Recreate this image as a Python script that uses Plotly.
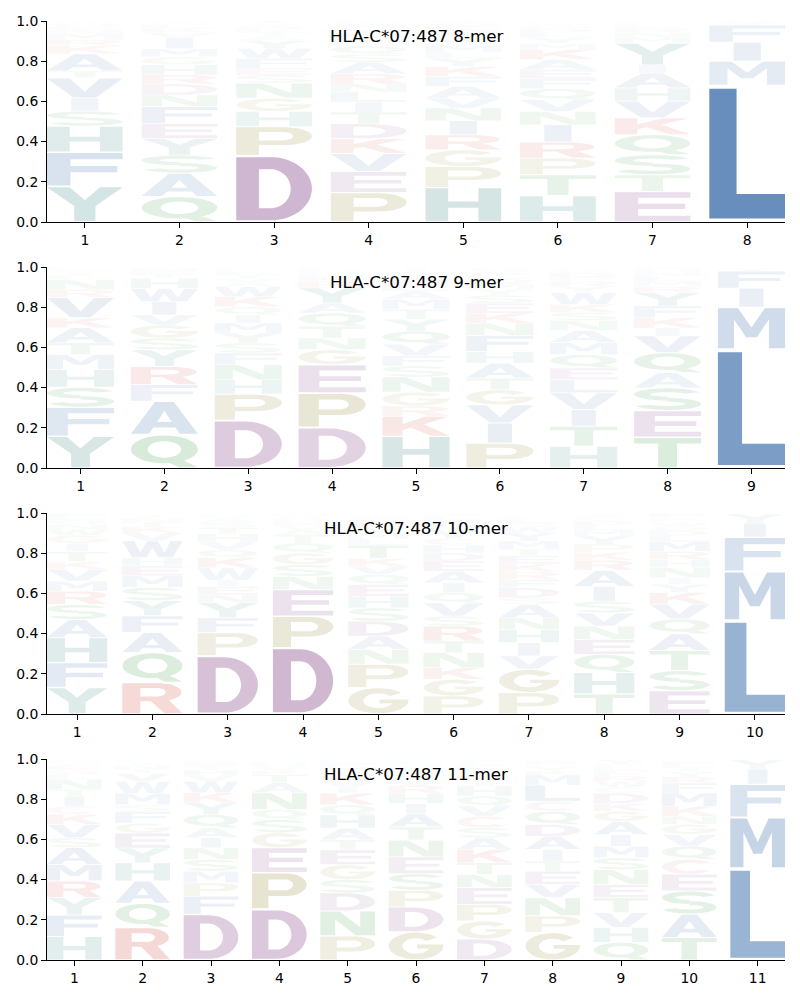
import numpy as np
import plotly.graph_objects as go

# ---------------- data ----------------
TITLES = ["HLA-C*07:487 8-mer", "HLA-C*07:487 9-mer", "HLA-C*07:487 10-mer", "HLA-C*07:487 11-mer"]

# letters per position, stacked bottom -> top, with their probabilities
letters_8mer = ["YFHSIVTAKRMNEQW", "QASYEFNDRHGMIVKLW", "DPHGNSEFWYATKRVI", "PEVKDTILNRASQMGHYFWC",
                "HPGRINVAFKYLMSTDEQW", "HTPRINVQFEAKMYLDGWC", "ETSQKVHAIYMNRLF", "LMIFYV"]
heights_8mer = [
    [.177, .17, .13, .075, .065, .10, .035, .085, .04, .03, .03, .02, .015, .015, .01],
    [.127, .116, .09, .083, .075, .083, .058, .055, .045, .05, .04, .04, .055, .025, .02, .02, .015],
    [.331, .144, .075, .066, .075, .04, .033, .05, .05, .04, .02, .02, .015, .015, .015, .01],
    [.147, .104, .09, .074, .074, .058, .05, .05, .04, .05, .058, .04, .04, .025, .02, .02, .02, .015, .015, .01],
    [.172, .104, .083, .075, .07, .063, .05, .057, .05, .05, .04, .03, .035, .03, .025, .02, .02, .015, .01],
    [.132, .103, .083, .08, .086, .066, .058, .055, .05, .045, .05, .05, .03, .03, .025, .02, .015, .01, .01],
    [.152, .083, .1, .1, .083, .083, .066, .074, .04, .108, .03, .025, .02, .015, .015],
    [.68, .12, .095, .085, .015, .005],
]

letters_9mer = ["YFSHMTAKVRNLIWE", "QAFRYSGVIWHTEN", "DPHNFSYMIQKWAVTEGL", "DPEGNTQAYRKHMF",
                "HKRGNSFVQYTMALDEWI", "PIVGTAHFNKESYMQLDWR", "HTIVLEQMANSKWYRFDGP", "TESAQVIKFYRMLNHW", "LMIFY"]
heights_9mer = [
    [.158, .144, .1, .088, .075, .058, .075, .05, .1, .04, .05, .02, .015, .015, .01],
    [.166, .166, .083, .09, .083, .058, .066, .05, .066, .066, .05, .02, .015, .015],
    [.237, .131, .071, .075, .058, .05, .05, .05, .04, .04, .05, .05, .02, .02, .02, .015, .01, .01],
    [.202, .171, .141, .075, .058, .058, .066, .05, .075, .033, .02, .015, .015, .015],
    [.158, .1, .05, .07, .075, .055, .05, .058, .066, .058, .05, .05, .04, .03, .03, .025, .015, .015],
    [.124, .1, .09, .075, .058, .075, .058, .08, .06, .05, .05, .04, .03, .025, .025, .02, .015, .01, .01],
    [.108, .1, .083, .083, .066, .058, .066, .06, .06, .05, .04, .04, .06, .03, .025, .02, .02, .015, .01],
    [.153, .133, .113, .075, .1, .083, .04, .05, .06, .066, .03, .025, .025, .02, .015, .01],
    [.59, .21, .095, .085, .015],
]

letters_10mer = ["YFHASRMVKTIGWNQLE", "RQAFYSMEHWVKTNIL", "DPFYNEIWKQVHTSAGR", "DPENSGQTAVKHRYM",
                 "GPNADSHEQVKTLMYRFWC", "PGKNTRSVQIAEDHCYMFLW", "PGVIHNASDFRKETMYWQLC",
                 "THQENVSIARKPYMLDGWC", "ESTAQVKYINHRMLDGWPCF", "LMFIY"]
heights_10mer = [
    [.132, .124, .124, .09, .075, .066, .05, .058, .04, .05, .04, .04, .03, .025, .02, .02, .015],
    [.157, .149, .1, .083, .075, .066, .058, .05, .04, .083, .04, .03, .025, .02, .015, .005],
    [.289, .116, .074, .075, .04, .04, .033, .06, .05, .04, .04, .04, .03, .025, .02, .015, .01],
    [.33, .157, .132, .066, .058, .058, .05, .04, .025, .02, .015, .015, .01, .01, .01],
    [.132, .116, .074, .066, .074, .066, .058, .058, .05, .04, .04, .066, .03, .03, .025, .025, .02, .015, .01],
    [.09, .083, .058, .074, .058, .074, .05, .066, .05, .05, .058, .05, .04, .04, .033, .04, .03, .02, .02, .015],
    [.107, .116, .066, .066, .066, .058, .066, .033, .05, .04, .04, .04, .04, .033, .04, .04, .03, .02, .02, .015],
    [.1, .107, .09, .074, .066, .066, .058, .074, .08, .05, .04, .04, .04, .03, .025, .02, .015, .01, .01],
    [.116, .1, .1, .083, .074, .074, .058, .04, .033, .05, .04, .04, .05, .03, .025, .02, .02, .015, .01, .02],
    [.465, .245, .17, .07, .045],
]

letters_11mer = ["HFYRMASVKCITNLQEWDP", "RQAHYEGFSMWVTNIL", "DFPMSNIAQYKWVHTERG", "DPEGSQNATKVHRY",
                 "PNDSGETAHQKIVRYMFL", "GDPSENTAIHRVYQMFL", "DGPENTKASCVQHIRYMFLW", "GPNVETIADQCLMKYFRW",
                 "QHVTENSMIAGKDCWRFLPY", "TASECQVGNKMFRYILD", "LMFIY"]
heights_11mer = [
    [.117, .107, .086, .083, .083, .083, .05, .066, .05, .04, .05, .033, .05, .025, .02, .02, .015, .01, .01],
    [.162, .12, .111, .09, .074, .074, .05, .058, .033, .058, .058, .04, .02, .02, .015, .01],
    [.228, .09, .066, .058, .058, .058, .05, .05, .066, .058, .05, .058, .03, .025, .02, .015, .01, .005],
    [.253, .182, .124, .074, .066, .05, .083, .05, .04, .02, .02, .015, .01, .01],
    [.12, .124, .09, .066, .074, .074, .05, .058, .066, .05, .058, .03, .03, .025, .025, .02, .02, .015],
    [.14, .124, .083, .083, .083, .083, .066, .066, .05, .05, .04, .03, .025, .02, .02, .015, .015],
    [.104, .09, .083, .083, .066, .058, .066, .058, .05, .058, .05, .05, .05, .025, .025, .02, .02, .015, .015, .01],
    [.137, .083, .09, .066, .066, .05, .058, .066, .058, .066, .05, .08, .05, .02, .02, .015, .015, .005],
    [.088, .074, .074, .074, .066, .074, .058, .058, .058, .066, .05, .04, .05, .03, .03, .025, .025, .02, .015, .02],
    [.112, .116, .116, .083, .074, .066, .058, .05, .04, .05, .066, .05, .03, .025, .02, .02, .015],
    [.455, .255, .165, .075, .045],
]

PANELS = [(letters_8mer, heights_8mer), (letters_9mer, heights_9mer),
          (letters_10mer, heights_10mer), (letters_11mer, heights_11mer)]

# amino-acid colour groups (full-strength colours; letters are faded by probability)
GROUP_COLORS = {
    "AILMFWV": (62, 111, 171),
    "DE": (131, 67, 135),
    "GP": (140, 130, 40),
    "NQST": (50, 150, 60),
    "KR": (200, 50, 40),
    "HY": (40, 125, 120),
    "C": (210, 100, 120),
}
ALPHA_SCALE = 1.15
LETTER_WIDTH = 0.8
VPAD = 0.025


def base_color(ch):
    for k, v in GROUP_COLORS.items():
        if ch in k:
            return v
    return (120, 120, 120)


def faded(ch, h):
    a = min(1.0, ALPHA_SCALE * h)
    r, g, b = base_color(ch)
    return "rgb(%d,%d,%d)" % (round(255 - a * (255 - r)), round(255 - a * (255 - g)), round(255 - a * (255 - b)))


# ---------------- glyph outlines in a unit box ----------------
def ell(cx, cy, rx, ry, a0, a1, n=30):
    t = np.radians(np.linspace(a0, a1, n))
    return list(zip(cx + rx * np.cos(t), cy + ry * np.sin(t)))


GLYPHS = {
    "A": [[[(0, 0), (0.27, 0), (0.335, 0.2), (0.665, 0.2), (0.73, 0), (1, 0), (0.64, 1), (0.36, 1)],
           [(0.39, 0.37), (0.61, 0.37), (0.5, 0.72)]]],
    "C": [[ell(.5, .5, .5, .5, 40, 320) + ell(.5, .5, .25, .29, 320, 40)]],
    "D": [[[(0, 0), (0.45, 0)] + ell(.45, .5, .55, .5, -90, 90) + [(0, 1)],
           [(0.3, 0.19), (0.45, 0.19)] + ell(.45, .5, .27, .31, -90, 90) + [(0.3, 0.81)]]],
    "E": [[[(0, 0), (1, 0), (1, 0.19), (0.31, 0.19), (0.31, 0.42), (0.93, 0.42), (0.93, 0.6), (0.31, 0.6),
            (0.31, 0.81), (1, 0.81), (1, 1), (0, 1)]]],
    "F": [[[(0, 0), (0.31, 0), (0.31, 0.41), (0.93, 0.41), (0.93, 0.6), (0.31, 0.6), (0.31, 0.81), (1, 0.81),
            (1, 1), (0, 1)]]],
    "G": [[ell(.5, .5, .5, .5, 40, 360) + [(1, 0.55), (0.52, 0.55), (0.52, 0.4), (0.74, 0.4)]
           + ell(.5, .5, .25, .29, 345, 40)]],
    "H": [[[(0, 0), (0.3, 0), (0.3, 0.41), (0.7, 0.41), (0.7, 0), (1, 0), (1, 1), (0.7, 1), (0.7, 0.6),
            (0.3, 0.6), (0.3, 1), (0, 1)]]],
    "I": [[[(0.32, 0), (0.68, 0), (0.68, 1), (0.32, 1)]]],
    "K": [[[(0, 0), (0.3, 0), (0.3, 0.3), (0.42, 0.43), (0.72, 0), (1, 0), (0.61, 0.6), (0.98, 1), (0.64, 1),
            (0.3, 0.62), (0.3, 1), (0, 1)]]],
    "L": [[[(0, 0), (1, 0), (1, 0.19), (0.36, 0.19), (0.36, 1), (0, 1)]]],
    "M": [[[(0, 0), (0.24, 0), (0.24, 0.72), (0.42, 0.28), (0.58, 0.28), (0.76, 0.72), (0.76, 0), (1, 0),
            (1, 1), (0.7, 1), (0.5, 0.52), (0.3, 1), (0, 1)]]],
    "N": [[[(0, 0), (0.27, 0), (0.27, 0.66), (0.65, 0), (1, 0), (1, 1), (0.73, 1), (0.73, 0.34), (0.35, 1),
            (0, 1)]]],
    "P": [[[(0, 0), (0.3, 0), (0.3, 0.35), (0.62, 0.35)] + ell(.62, .675, .38, .325, -90, 90) + [(0, 1)],
           [(0.3, 0.52), (0.6, 0.52)] + ell(.6, .675, .15, .155, -90, 90) + [(0.3, 0.83)]]],
    "Q": [[ell(.5, .56, .5, .44, 0, 360), ell(.5, .56, .25, .26, 0, 360)],
          [[(0.5, 0.2), (0.72, 0), (1, 0), (0.78, 0.22)]]],
    "R": [[[(0, 0), (0.3, 0), (0.3, 0.4), (0.6, 0.4)] + ell(.6, .7, .38, .3, -90, 90) + [(0, 1)],
           [(0.3, 0.56), (0.58, 0.56)] + ell(.58, .7, .14, .14, -90, 90) + [(0.3, 0.84)]],
          [[(0.45, 0.44), (0.7, 0), (1, 0), (0.75, 0.47)]]],
    "S": [[ell(.5, .72, .5, .28, 20, 270) + ell(.5, .72, .26, .1, 270, 20)],
          [ell(.5, .28, .5, .28, 90, -160) + ell(.5, .28, .26, .1, -160, 90)]],
    "T": [[[(0, 1), (1, 1), (1, 0.81), (0.64, 0.81), (0.64, 0), (0.36, 0), (0.36, 0.81), (0, 0.81)]]],
    "V": [[[(0, 1), (0.3, 1), (0.5, 0.3), (0.7, 1), (1, 1), (0.65, 0), (0.35, 0)]]],
    "W": [[[(0, 1), (0.2, 1), (0.3, 0.3), (0.41, 1), (0.59, 1), (0.7, 0.3), (0.8, 1), (1, 1), (0.84, 0),
            (0.6, 0), (0.5, 0.6), (0.4, 0), (0.16, 0)]]],
    "Y": [[[(0, 1), (0.3, 1), (0.5, 0.62), (0.7, 1), (1, 1), (0.64, 0.45), (0.64, 0), (0.36, 0),
            (0.36, 0.45)]]],
}


def signed_area(pts):
    a = 0.0
    for i in range(len(pts)):
        x1, y1 = pts[i]
        x2, y2 = pts[(i + 1) % len(pts)]
        a += x1 * y2 - x2 * y1
    return a / 2


def oriented(ring, outer):
    ring = list(ring)
    sa = signed_area(ring)
    if (outer and sa < 0) or ((not outer) and sa > 0):
        ring = ring[::-1]
    return ring


def glyph_paths(ch, xc, y0, h):
    pad = VPAD * h
    gh = h - 2 * pad
    out = []
    for comp in GLYPHS[ch]:
        parts = []
        for i, ring in enumerate(comp):
            ring = oriented(ring, i == 0)
            pts = ["%.4f,%.5f" % (xc - LETTER_WIDTH / 2 + LETTER_WIDTH * u, y0 + pad + gh * v) for u, v in ring]
            parts.append("M" + " L".join(pts) + " Z")
        out.append(" ".join(parts))
    return out


# ---------------- figure ----------------
fig = go.Figure()
shapes = []
annotations = []
PLOT_H = 940.0
for k, (letters, heights) in enumerate(PANELS):
    n = len(letters)
    sfx = "" if k == 0 else str(k + 1)
    xa, ya = "x" + sfx, "y" + sfx
    fig.add_trace(go.Scatter(x=[1], y=[0], mode="markers", marker=dict(opacity=0), hoverinfo="skip",
                             showlegend=False, xaxis=xa, yaxis=ya))
    for p, (lets, hs) in enumerate(zip(letters, heights)):
        pos = p + 1
        y0 = 0.0
        for ch, h in zip(lets, hs):
            col = faded(ch, h)
            for path in glyph_paths(ch, pos, y0, h):
                shapes.append(dict(type="path", path=path, xref=xa, yref=ya, fillcolor=col,
                                   line=dict(width=0), layer="above"))
            y0 += h
    top = 1 - (246 * k) / PLOT_H
    bot = 1 - (246 * k + 201) / PLOT_H
    axis_common = dict(showline=True, linecolor="black", linewidth=1, ticks="outside", ticklen=5,
                       tickwidth=1, tickcolor="black", showgrid=False, zeroline=False,
                       tickfont=dict(family="DejaVu Sans", size=13.9, color="black"))
    fig.update_layout(**{
        ("xaxis" + sfx): dict(domain=[0, 1], range=[0.6, n + 0.4], tickvals=list(range(1, n + 1)),
                              anchor=ya, **axis_common),
        ("yaxis" + sfx): dict(domain=[bot, top], range=[0, 1], tickvals=[0, .2, .4, .6, .8, 1.0],
                              ticktext=["0.0", "0.2", "0.4", "0.6", "0.8", "1.0"], anchor=xa, **axis_common),
    })
    annotations.append(dict(text=TITLES[k], xref=xa + " domain", yref=ya, x=0.5, y=0.925,
                            xanchor="center", yanchor="middle", showarrow=False,
                            font=dict(family="DejaVu Sans", size=16.7, color="black")))

# margins compensate for the page's 8px body margin so the axes land where the reference has them
fig.update_layout(width=800, height=1000, margin=dict(l=39, r=23, t=13, b=47, autoexpand=False),
                  plot_bgcolor="white", paper_bgcolor="white", shapes=shapes, annotations=annotations,
                  showlegend=False)
fig.write_html("out.html")
